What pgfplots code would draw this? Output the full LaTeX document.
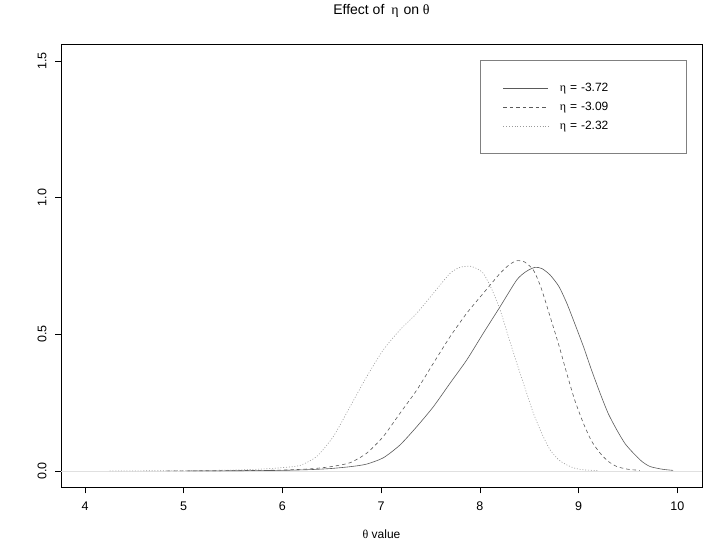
\documentclass[border=0pt]{standalone}
\usepackage{pgfplots}
\pgfplotsset{compat=1.18}
\usepackage{fontspec}
\setmainfont{Liberation Sans}
\newfontfamily\grk{Liberation Serif}
\definecolor{solidc}{HTML}{5A5A5A}
\definecolor{dashc}{HTML}{5A5A5A}
\definecolor{dotc}{HTML}{9A9A9A}
\definecolor{zeroc}{HTML}{E0E0E0}
\begin{document}
\begin{tikzpicture}
\path (0pt,0pt) rectangle (714pt,547pt);
\begin{axis}[
  at={(61pt,59.7pt)}, anchor=south west,
  scale only axis, width=641pt, height=443.3pt,
  xmin=3.757, xmax=10.25, ymin=-0.06, ymax=1.562,
  xtick={4,5,6,7,8,9,10},
  ytick={0,0.5,1,1.5}, yticklabels={0.0,0.5,1.0,1.5},
  xtick pos=left, ytick pos=left,
  tick align=outside, major tick length=6pt,
  tick style={black, line width=0.5pt},
  axis line style={black, line width=0.6pt},
  /pgf/number format/assume math mode=true,
  tick label style={font=\fontsize{12.5}{14}\selectfont},
  xticklabel shift=5pt, yticklabel shift=5pt,
  yticklabel style={rotate=90, anchor=south},
  title={Effect of\ \hspace{3pt}{\grk η}\ \hspace{1pt}on\ {\grk θ}},
  title style={at={(axis description cs:0.5,1)}, anchor=base, yshift=23.3pt, font=\fontsize{14}{16}\selectfont},
  xlabel={{\grk θ} value},
  xlabel style={at={(axis description cs:0.5,0)}, anchor=base, yshift=-51pt, font=\fontsize{12}{14}\selectfont},
  legend image code/.code={\draw[#1] (0pt,0pt) -- (45pt,0pt); \path (54pt,0pt);},
  legend style={at={(axis cs:8.0,1.504)}, anchor=north west, draw=gray, line width=0.6pt,
    inner xsep=23pt, inner ysep=21pt, row sep=5pt,
    font=\fontsize{12}{14}\selectfont, cells={anchor=west},
    /tikz/column 2/.style={text width=102pt}},
]
\node[rotate=90, anchor=base, font=\fontsize{12}{14}\selectfont] at ([xshift=-40.5pt]axis description cs:0,0.5) {Density};
\addplot[zeroc, line width=0.6pt, forget plot] coordinates {(3.757,0) (10.25,0)};
\addplot[solidc, line width=0.6pt, smooth, tension=0.4] coordinates {
(5.04,0) (5.5,0.0005) (6.0,0.002) (6.3,0.005) (6.5,0.009) (6.7,0.016) (6.854,0.025)
(7.022,0.048) (7.191,0.095) (7.361,0.162) (7.529,0.235) (7.698,0.321) (7.867,0.406)
(8.035,0.504) (8.205,0.601) (8.374,0.699) (8.47,0.73) (8.559,0.745) (8.63,0.74)
(8.711,0.717) (8.80,0.675) (8.880,0.614) (8.96,0.54) (9.049,0.455) (9.13,0.37)
(9.218,0.284) (9.30,0.21) (9.387,0.15) (9.47,0.10) (9.555,0.065) (9.64,0.035)
(9.724,0.016) (9.85,0.006) (9.957,0.002)};
\addlegendentry{{\grk η} = -3.72}
\addplot[dashc, line width=0.6pt, dash pattern=on 3.5pt off 3pt, smooth, tension=0.4] coordinates {
(4.83,0) (5.5,0.001) (6.0,0.003) (6.3,0.008) (6.5,0.016) (6.685,0.03) (6.854,0.065)
(7.022,0.126) (7.191,0.211) (7.361,0.296) (7.529,0.394) (7.698,0.491) (7.867,0.577)
(8.035,0.650) (8.205,0.723) (8.30,0.755) (8.374,0.769) (8.45,0.765) (8.542,0.735)
(8.62,0.67) (8.711,0.565) (8.80,0.46) (8.880,0.357) (8.96,0.26) (9.049,0.174)
(9.13,0.11) (9.218,0.065) (9.30,0.035) (9.387,0.016) (9.50,0.006) (9.62,0.002)};
\addlegendentry{{\grk η} = -3.09}
\addplot[dotc, line width=0.6pt, dash pattern=on 1pt off 1.8pt, smooth, tension=0.4] coordinates {
(4.25,0) (5.0,0.001) (5.5,0.003) (5.8,0.007) (6.0,0.012) (6.178,0.02) (6.348,0.053)
(6.516,0.126) (6.685,0.235) (6.854,0.345) (7.022,0.443) (7.191,0.516) (7.361,0.577)
(7.529,0.650) (7.698,0.723) (7.80,0.745) (7.901,0.749) (7.97,0.74) (8.035,0.723)
(8.12,0.665) (8.205,0.589) (8.29,0.49) (8.374,0.394) (8.46,0.30) (8.542,0.211)
(8.63,0.135) (8.711,0.077) (8.80,0.04) (8.880,0.022) (8.96,0.01) (9.049,0.004) (9.2,0.001)};
\addlegendentry{{\grk η} = -2.32}
\end{axis}
\end{tikzpicture}
\end{document}
